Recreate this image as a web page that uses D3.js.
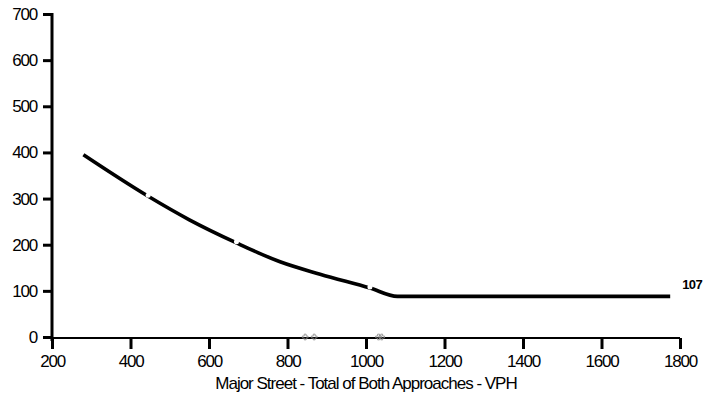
<!DOCTYPE html>
<html>
<head>
<meta charset="utf-8">
<script src="https://cdn.jsdelivr.net/npm/d3@7"></script>
<style>
  body { margin: 0; background: #fff; }
  svg text { font-family: "Liberation Sans", Arial, sans-serif; fill: #000; }
</style>
</head>
<body>
<svg class="d3" width="722" height="405"></svg>
<script>
// warrant curve
const majorVph = [280, 445, 550, 670, 781, 883, 1010, 1080, 1775];
const minorVph = [395, 305, 254, 204, 163, 136, 106, 88, 88];
// little grey points sitting on the axis
const pointX = [845, 868, 1032, 1040];
const pointY = [0, 0, 0, 0];
// spots where the curve is broken
const breakX = [445, 670, 1010];
const xTicks = [200, 400, 600, 800, 1000, 1200, 1400, 1600, 1800];
const yTicks = [0, 100, 200, 300, 400, 500, 600, 700];
const endLabel = "107";
const xTitle = "Major Street - Total of Both Approaches - VPH";

const svg = d3.select("svg.d3");
const x = d3.scaleLinear().domain([200, 1800]).range([52, 680]);
const y = d3.scaleLinear().domain([0, 700]).range([337, 14]);

// x axis
const gx = svg.append("g").attr("transform", "translate(0,338)")
  .call(d3.axisBottom(x).tickValues(xTicks).tickSize(11).tickPadding(6).tickFormat(d3.format("d")));
gx.select(".domain").attr("stroke-width", 2).attr("d", "M52,0H680");
gx.selectAll(".tick line").attr("stroke-width", 3);
gx.selectAll(".tick text").attr("font-size", 17).attr("letter-spacing", "-1.2px").attr("dy", "0.72em");

// y axis
const gy = svg.append("g").attr("transform", "translate(52,0)")
  .call(d3.axisLeft(y).tickValues(yTicks).tickSize(9).tickPadding(6).tickFormat(d3.format("d")));
gy.select(".domain").attr("stroke-width", 3).attr("d", "M0,13V341");
gy.selectAll(".tick line").attr("stroke-width", 3);
gy.selectAll(".tick text").attr("font-size", 17).attr("letter-spacing", "-1.2px");

svg.append("text")
  .attr("x", (x(200) + x(1800)) / 2).attr("y", 389)
  .attr("text-anchor", "middle").attr("font-size", 17).attr("letter-spacing", "-1px")
  .text(xTitle);

// curve
const pts = majorVph.map((d, i) => [d, minorVph[i]]);
const line = d3.line().x(d => x(d[0])).y(d => y(d[1])).curve(d3.curveMonotoneX);
svg.append("path").datum(pts)
  .attr("fill", "none").attr("stroke", "#000").attr("stroke-width", 3.6)
  .attr("d", line);

const interp = v => {
  const i = d3.bisectLeft(majorVph, v);
  if (majorVph[i] === v) return minorVph[i];
  const t = (v - majorVph[i - 1]) / (majorVph[i] - majorVph[i - 1]);
  return minorVph[i - 1] + t * (minorVph[i] - minorVph[i - 1]);
};
svg.selectAll("circle.gap").data(breakX).enter().append("circle")
  .attr("class", "gap")
  .attr("cx", d => x(d)).attr("cy", d => y(interp(d)) - 1)
  .attr("r", 2.5).attr("fill", "#fff");

// grey points
svg.selectAll("path.pt").data(pointX).enter().append("path")
  .attr("class", "pt")
  .attr("transform", (d, i) => `translate(${x(d)},${y(pointY[i])})`)
  .attr("d", d3.symbol(d3.symbolCross, 18))
  .attr("fill", "none").attr("stroke", "#888").attr("stroke-width", 0.8);

svg.append("text")
  .attr("x", x(majorVph[majorVph.length - 1]) + 12)
  .attr("y", y(minorVph[minorVph.length - 1]) - 7)
  .attr("font-size", 13).attr("font-weight", "bold").attr("letter-spacing", "-0.6px")
  .text(endLabel);
</script>
</body>
</html>
